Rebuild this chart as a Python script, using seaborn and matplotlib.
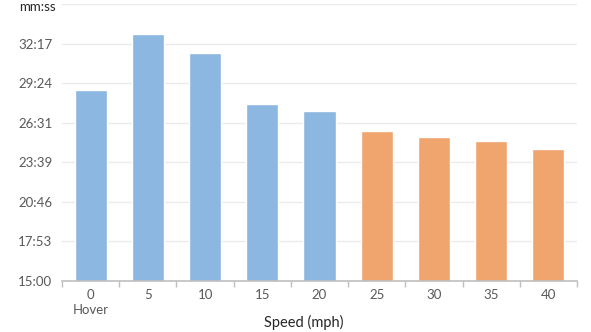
import matplotlib
matplotlib.use("Agg")
import matplotlib.pyplot as plt
import seaborn as sns
import numpy as np
import pandas as pd

# Flight time (seconds) at each airspeed
speeds = ["0\nHover", "5", "10", "15", "20", "25", "30", "35", "40"]
flight_seconds = [1735, 1980, 1897, 1674, 1644, 1556, 1530, 1512, 1477]
bar_colors = ["#8CB7E0"] * 5 + ["#F0A56E"] * 4

# y axis: 15:00 upward in steps of 0.002 day (172.8 s)
y_min = 900
y_step = 172.8
y_labels = ["15:00", "17:53", "20:46", "23:39", "26:31", "29:24", "32:17", ""]

sns.set_theme(style="white")
plt.rcParams["font.family"] = ["Lato", "DejaVu Sans"]

df = pd.DataFrame({"speed": speeds, "time": flight_seconds})

fig = plt.figure(figsize=(5.91, 3.32), dpi=100)
ax = fig.add_axes([62 / 591, 1 - 281 / 332, (577 - 62) / 591, (281 - 4.3) / 332])

sns.barplot(data=df, x="speed", y="time", hue="speed", palette=bar_colors,
            legend=False, width=0.56, saturation=1, ax=ax)

y_ticks = [y_min + i * y_step for i in range(len(y_labels))]
ax.set_ylim(y_min, y_ticks[-1])
ax.set_yticks(y_ticks)
ax.set_yticklabels(y_labels)
ax.set_xlim(-0.5, len(speeds) - 0.5)

ax.yaxis.grid(True, color="#EBEBEB", linewidth=1)
ax.set_axisbelow(True)
for side in ["left", "right", "top"]:
    ax.spines[side].set_visible(False)
ax.spines["bottom"].set_color("#BFBFBF")
ax.spines["bottom"].set_linewidth(1.2)

ax.tick_params(axis="y", length=0, pad=7, labelsize=9.5, labelcolor="#595959")
ax.tick_params(axis="x", which="major", length=0, pad=6, labelsize=9.5,
               labelcolor="#595959")
ax.set_xticks(np.arange(-0.5, len(speeds), 1.0), minor=True)
ax.tick_params(axis="x", which="minor", length=4, width=1, color="#BFBFBF",
               direction="out", bottom=True)
for lbl in ax.get_xticklabels():
    lbl.set_linespacing(1.25)

ax.set_xlabel("")
ax.set_ylabel("")
fig.text(304 / 591, 1 - 322 / 332, "Speed (mph)", ha="center", va="center",
         fontsize=10.5, color="#262626")
fig.text(37 / 591, 1 - 7 / 332, "mm:ss", ha="center", va="center",
         fontsize=9.5, color="#262626")

fig.savefig("out.png", dpi=100, facecolor="white")
